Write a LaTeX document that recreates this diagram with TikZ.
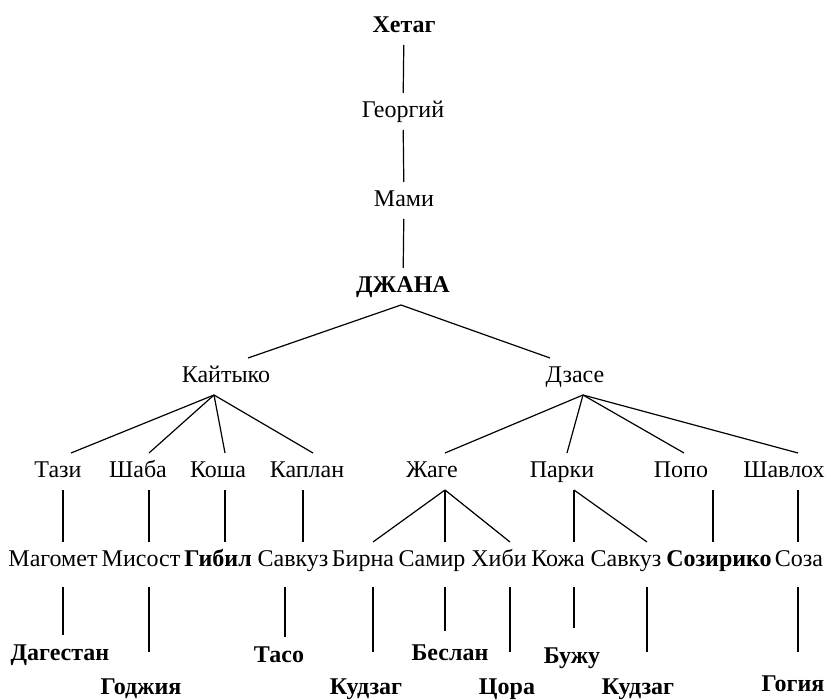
\documentclass[tikz,border=0pt]{standalone}
\usepackage{fontspec}
\setmainfont{Liberation Serif}
\tikzset{
  nm/.style={inner sep=0pt, anchor=base, text height=8pt, text depth=1.5pt, outer ysep=4.5pt, font=\fontsize{12}{14}\selectfont},
  bnm/.style={nm, font=\fontsize{12}{14}\selectfont\bfseries},
  lnk/.style={line width=0.6pt},
}
\begin{document}
\begin{tikzpicture}[x=0.5pt,y=-0.5pt]
\useasboundingbox (0,0) rectangle (831,700);
\node[bnm] (hetag) at (404,33) {Хетаг};
\node[nm] (georg) at (403,118) {Георгий};
\node[nm] (mami) at (404,207) {Мами};
\node[bnm] (dzhana) at (403,293) {ДЖАНА};
\node[nm] (kajt) at (226,383) {Кайтыко};
\node[nm] (dzase) at (575,383) {Дзасе};
\foreach \n/\x/\t in {tazi/58/Тази,shaba/138/Шаба,kosha/218/Коша,kaplan/307/Каплан,
	zhage/432/Жаге,parki/562/Парки,popo/681/Попо,shavloh/784/Шавлох}{
	\node[nm] (\n) at (\x,478) {\t};}
\foreach \n/\x/\t in {magomet/53/Магомет,misost/141/Мисост,savkuz/293/Савкуз,birna/363/Бирна,
	samir/432/Самир,hibi/499/Хиби,kozha/558/Кожа,savkuzb/626/Савкуз,soza/799/Соза}{
	\node[nm] (\n) at (\x,567) {\t};}
\node[bnm] (gibil) at (218,567) {Гибил};
\node[bnm] (soziriko) at (719,567) {Созирико};
\foreach \n/\x/\y/\t in {dagestan/60/660/Дагестан,godzhija/141/694/Годжия,taso/279/662/Тасо,
	kudzag/366/694/Кудзаг,beslan/450/660/Беслан,cora/507/694/Цора,buzhu/572/663/Бужу,
	kudzagb/638/694/Кудзаг,gogija/793/691/Гогия}{
	\node[bnm] (\n) at (\x,\y) {\t};}
\draw[lnk] (hetag) -- (georg);
\draw[lnk] (georg) -- (mami);
\draw[lnk] (mami) -- (dzhana);
\foreach \a/\sa/\b/\sb in {dzhana/-1/kajt/11,dzhana/-1/dzase/-12.5,
	kajt/-6/tazi/6.5,kajt/-6/shaba/5.5,kajt/-6/kosha/3.5,kajt/-6/kaplan/3,
	dzase/4/zhage/6.5,dzase/4/parki/2.5,dzase/4/popo/1.5,dzase/4/shavloh/7,
	tazi/2.5/magomet/5,shaba/5.5/misost/4,kosha/3.5/gibil/3.5,kaplan/-2/savkuz/5,
	zhage/6.5/birna/5,zhage/6.5/samir/6.5,zhage/6.5/hibi/5.5,
	parki/6/kozha/8,parki/6/savkuzb/10.5,popo/16/soziriko/-3,shavloh/7/soza/-0.5}{
	\draw[lnk] ([xshift=\sa pt]\a.south) -- ([xshift=\sb pt]\b.north);}
\foreach \a/\sa/\b/\sb/\s in {magomet/5/dagestan/1.5/0,misost/4/godzhija/4/8.5,
	savkuz/-4/taso/3/0,birna/5/kudzag/3.5/8.5,samir/6.5/beslan/-2.5/2,
	hibi/5.5/cora/1.5/8.5,kozha/8/buzhu/1/5,savkuzb/10.5/kudzagb/4.5/8.5,soza/-0.5/gogija/2.5/7}{
	\draw[lnk,shorten <=4pt,shorten >=\s pt] ([xshift=\sa pt]\a.south) -- ([xshift=\sb pt]\b.north);}
\end{tikzpicture}
\end{document}
